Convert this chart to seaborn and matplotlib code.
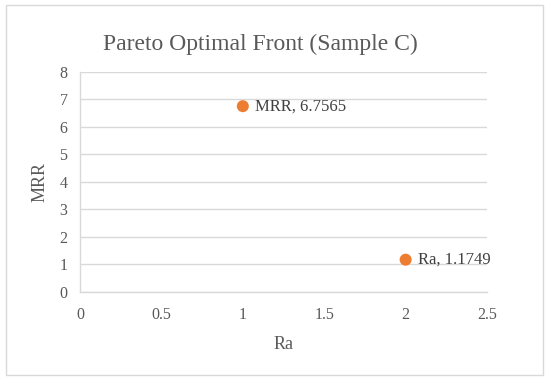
import matplotlib
matplotlib.use("Agg")
import matplotlib.pyplot as plt
import seaborn as sns
import pandas as pd
from matplotlib.patches import Rectangle

# data
names = ["MRR", "Ra"]
ra = [1, 2]
mrr = [6.7565, 1.1749]
x_ticks = [0, 0.5, 1, 1.5, 2, 2.5]
x_tick_labels = ["0", "0.5", "1", "1.5", "2", "2.5"]
y_ticks = [0, 1, 2, 3, 4, 5, 6, 7, 8]

df = pd.DataFrame({"name": names, "Ra": ra, "MRR": mrr})

sns.set_theme(style="white")
plt.rcParams["font.family"] = ["Liberation Serif", "DejaVu Serif"]

text_col = "#595959"
grid_col = "#d9d9d9"

fig = plt.figure(figsize=(5.5, 3.82), dpi=100)
ax = fig.add_axes([0.1455, 0.2356, 0.74, 0.576])

sns.scatterplot(data=df, x="Ra", y="MRR", ax=ax, color="#ED7D31",
                s=75, edgecolor="none", zorder=3)

for _, row in df.iterrows():
    ax.annotate(f"{row['name']}, {row['MRR']}", (row["Ra"], row["MRR"]),
                xytext=(9, 0), textcoords="offset points", va="center",
                ha="left", fontsize=12, color="#404040")

ax.set_xlim(0, 2.5)
ax.set_ylim(0, 8)
ax.set_xticks(x_ticks)
ax.set_xticklabels(x_tick_labels)
ax.set_yticks(y_ticks)
ax.yaxis.grid(True, color=grid_col, linewidth=1)
ax.xaxis.grid(False)
ax.set_axisbelow(True)

for side in ["top", "right"]:
    ax.spines[side].set_visible(False)
for side in ["left", "bottom"]:
    ax.spines[side].set_color(grid_col)
    ax.spines[side].set_linewidth(1)

ax.tick_params(axis="both", which="both", length=4, width=1, color=grid_col,
               labelcolor=text_col, labelsize=11.5, pad=5)
ax.tick_params(axis="x", direction="out", pad=7)
ax.tick_params(axis="y", direction="out")

ax.set_xlabel("Ra", fontsize=13, color=text_col, labelpad=9)
ax.set_ylabel("MRR", fontsize=13, color=text_col, labelpad=8)
fig.text(0.474, 0.885, "Pareto Optimal Front (Sample C)", ha="center",
         va="center", fontsize=17, color=text_col)

fig.patches.append(Rectangle((0.011, 0.018), 0.976, 0.968, transform=fig.transFigure,
                             fill=False, edgecolor=grid_col, linewidth=1))

fig.savefig("out.png", dpi=100)
